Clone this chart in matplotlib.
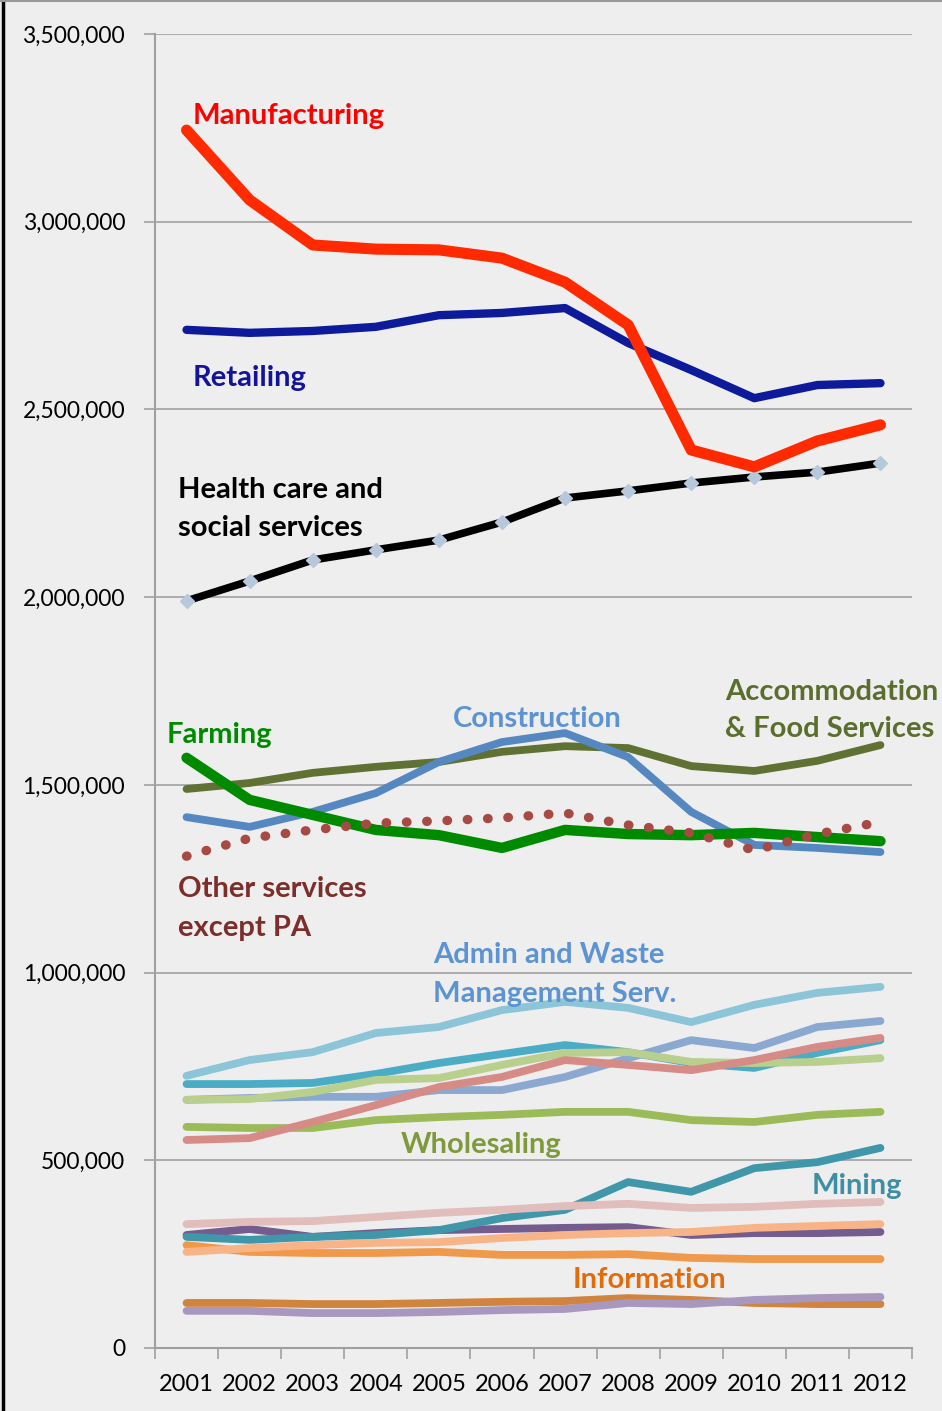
import matplotlib
matplotlib.use('Agg')
import matplotlib.pyplot as plt
from matplotlib.lines import Line2D
from matplotlib.ticker import FuncFormatter, FixedLocator

plt.rcParams['font.family'] = ['Lato', 'DejaVu Sans']

years = ["2001", "2002", "2003", "2004", "2005", "2006",
         "2007", "2008", "2009", "2010", "2011", "2012"]

# labelled industries
manufacturing = [3244000, 3058000, 2938000, 2927000, 2925000, 2903000,
                 2839000, 2725000, 2392000, 2347000, 2416000, 2459000]
retailing = [2712000, 2704000, 2709000, 2720000, 2751000, 2757000,
             2770000, 2677000, 2605000, 2530000, 2565000, 2570000]
health_care = [1990000, 2043000, 2099000, 2126000, 2152000, 2200000,
               2264000, 2283000, 2304000, 2320000, 2333000, 2357000]
farming = [1572000, 1460000, 1420000, 1380000, 1366000, 1332000,
           1380000, 1369000, 1366000, 1372000, 1361000, 1350000]
accommodation = [1489000, 1505000, 1532000, 1548000, 1561000, 1588000,
                 1603000, 1598000, 1550000, 1537000, 1564000, 1606000]
construction = [1414000, 1388000, 1428000, 1478000, 1561000, 1614000,
                1638000, 1574000, 1428000, 1340000, 1332000, 1321000]
other_services = [1310000, 1358000, 1380000, 1398000, 1404000, 1412000,
                  1425000, 1393000, 1372000, 1326000, 1369000, 1401000]
admin_waste = [725000, 767000, 788000, 839000, 855000, 900000,
               922000, 906000, 868000, 914000, 946000, 962000]
wholesaling = [589000, 586000, 586000, 607000, 615000, 621000,
               629000, 629000, 607000, 602000, 621000, 629000]
mining = [296000, 288000, 296000, 301000, 314000, 346000,
          368000, 442000, 416000, 479000, 495000, 533000]
information = [274000, 256000, 253000, 253000, 256000, 248000,
               248000, 250000, 240000, 237000, 237000, 237000]

# unlabelled industries (names not shown in the chart)
unlabelled_teal = [703000, 703000, 706000, 730000, 759000, 783000,
                   807000, 788000, 759000, 746000, 786000, 820000]
unlabelled_light_green = [661000, 663000, 682000, 714000, 719000, 754000,
                          786000, 788000, 762000, 759000, 762000, 772000]
unlabelled_periwinkle = [661000, 666000, 669000, 669000, 687000, 687000,
                         722000, 772000, 820000, 799000, 855000, 871000]
unlabelled_salmon = [554000, 559000, 602000, 647000, 695000, 722000,
                     767000, 754000, 740000, 767000, 802000, 826000]
unlabelled_pink = [330000, 336000, 338000, 349000, 360000, 368000,
                   378000, 384000, 373000, 376000, 384000, 389000]
unlabelled_purple = [301000, 317000, 296000, 306000, 314000, 317000,
                     320000, 322000, 301000, 306000, 306000, 309000]
unlabelled_light_orange = [256000, 266000, 274000, 280000, 282000, 293000,
                           301000, 306000, 309000, 320000, 325000, 330000]
unlabelled_dark_orange = [120000, 120000, 117000, 117000, 120000, 123000,
                          125000, 133000, 128000, 120000, 117000, 117000]
unlabelled_lilac = [99000, 99000, 93000, 93000, 96000, 101000,
                    104000, 120000, 117000, 128000, 133000, 136000]

BG = '#EEEEEE'
fig = plt.figure(figsize=(9.42, 14.11), dpi=100, facecolor=BG)
ax = fig.add_axes([155 / 942, 63 / 1411, (912 - 155) / 942, (1348 - 34) / 1411])
ax.set_facecolor(BG)

x = list(range(len(years)))
line_kw = dict(solid_capstyle='round', solid_joinstyle='round')

# (values, colour) -- drawn bottom to top
lower = [
    (unlabelled_dark_orange, '#D0843E'),
    (unlabelled_lilac, '#A898C0'),
    (information, '#F0994B'),
    (unlabelled_purple, '#755C8E'),
    (unlabelled_light_orange, '#F8B486'),
    (mining, '#4097AA'),
    (unlabelled_pink, '#E1BDBC'),
    (wholesaling, '#9BBB59'),
    (unlabelled_periwinkle, '#8BA9D0'),
    (unlabelled_teal, '#4BACC6'),
    (unlabelled_light_green, '#B9CF8E'),
    (unlabelled_salmon, '#D78B87'),
    (admin_waste, '#8CC4D8'),
]
for vals, col in lower:
    ax.plot(x, vals, color=col, lw=5.6, **line_kw)

ax.plot(x, accommodation, color='#5F7233', lw=5.6, **line_kw)
ax.plot(x, construction, color='#5588C0', lw=5.6, **line_kw)
ax.plot(x, farming, color='#008A00', lw=7.5, **line_kw)
ax.plot(x, other_services, color='#A84A44', lw=6.8, linestyle=(0, (0.05, 2.1)),
        dash_capstyle='round')
ax.plot(x, health_care, color='#000000', lw=5.5, marker='D', markersize=7.5,
        markerfacecolor='#B8C8DC', markeredgecolor='#B8C8DC', **line_kw)
ax.plot(x, retailing, color='#0D1A99', lw=6.0, **line_kw)
ax.plot(x, manufacturing, color='#FF2A00', lw=8.0, **line_kw)

# axes styling
ax.set_xlim(-0.5, 11.5)
ax.set_ylim(0, 3500000)
ax.set_yticks(range(0, 3500001, 500000))
ax.yaxis.set_major_formatter(FuncFormatter(lambda v, p: f"{int(v):,}"))
ax.grid(axis='y', color='#A0A0A0', lw=1.2)
ax.set_axisbelow(True)
ax.xaxis.set_major_locator(FixedLocator([i - 0.5 for i in range(13)]))
ax.xaxis.set_minor_locator(FixedLocator(x))
ax.set_xticklabels([])
ax.set_xticklabels(years, minor=True)
ax.tick_params(axis='x', which='major', length=8, width=1.2, color='#A0A0A0', direction='out')
ax.tick_params(axis='x', which='minor', length=0, pad=19, labelsize=17)
ax.tick_params(axis='y', length=8, width=1.2, color='#A0A0A0', direction='out', pad=13.5, labelsize=16.5)
for s in ['top', 'right']:
    ax.spines[s].set_visible(False)
for s in ['left', 'bottom']:
    ax.spines[s].set_color('#A0A0A0')
    ax.spines[s].set_linewidth(1.5)


def px_to_val(py):
    return (1348 - py) / 1314 * 3500000


def px_to_x(px):
    return (px - 155) / (912 - 155) * 12 - 0.5


# direct labels: text, left x px, centre y px, colour
labels = [
    ("Manufacturing", 193, 116, '#FF0000'),
    ("Retailing", 193, 378, '#14149A'),
    ("Health care and", 178, 490, '#000000'),
    ("social services", 178, 528, '#000000'),
    ("Accommodation", 725, 692, '#5A6E2E'),
    ("& Food Services", 725, 729, '#5A6E2E'),
    ("Farming", 167, 735, '#008A00'),
    ("Construction", 453, 719, '#5B93D3'),
    ("Other services", 178, 889, '#7B2E2A'),
    ("except PA", 178, 928, '#7B2E2A'),
    ("Admin and Waste", 433, 955, '#5B93D3'),
    ("Management Serv.", 433, 994, '#5B93D3'),
    ("Wholesaling", 401, 1145, '#7F9A3C'),
    ("Mining", 812, 1186, '#3E8FA3'),
    ("Information", 573, 1280, '#E36C0A'),
]
for txt, px, py, col in labels:
    ax.text(px_to_x(px), px_to_val(py), txt, color=col, clip_on=False, zorder=10,
            fontsize=21, fontweight='bold', va='center', ha='left')

# figure frame
fig.add_artist(Line2D([0.003, 0.003], [0, 1], transform=fig.transFigure, color='black', lw=2.5))
fig.add_artist(Line2D([0, 1], [0.9995, 0.9995], transform=fig.transFigure, color='#999999', lw=1.5))

fig.savefig('out.png', dpi=100, facecolor=BG)
